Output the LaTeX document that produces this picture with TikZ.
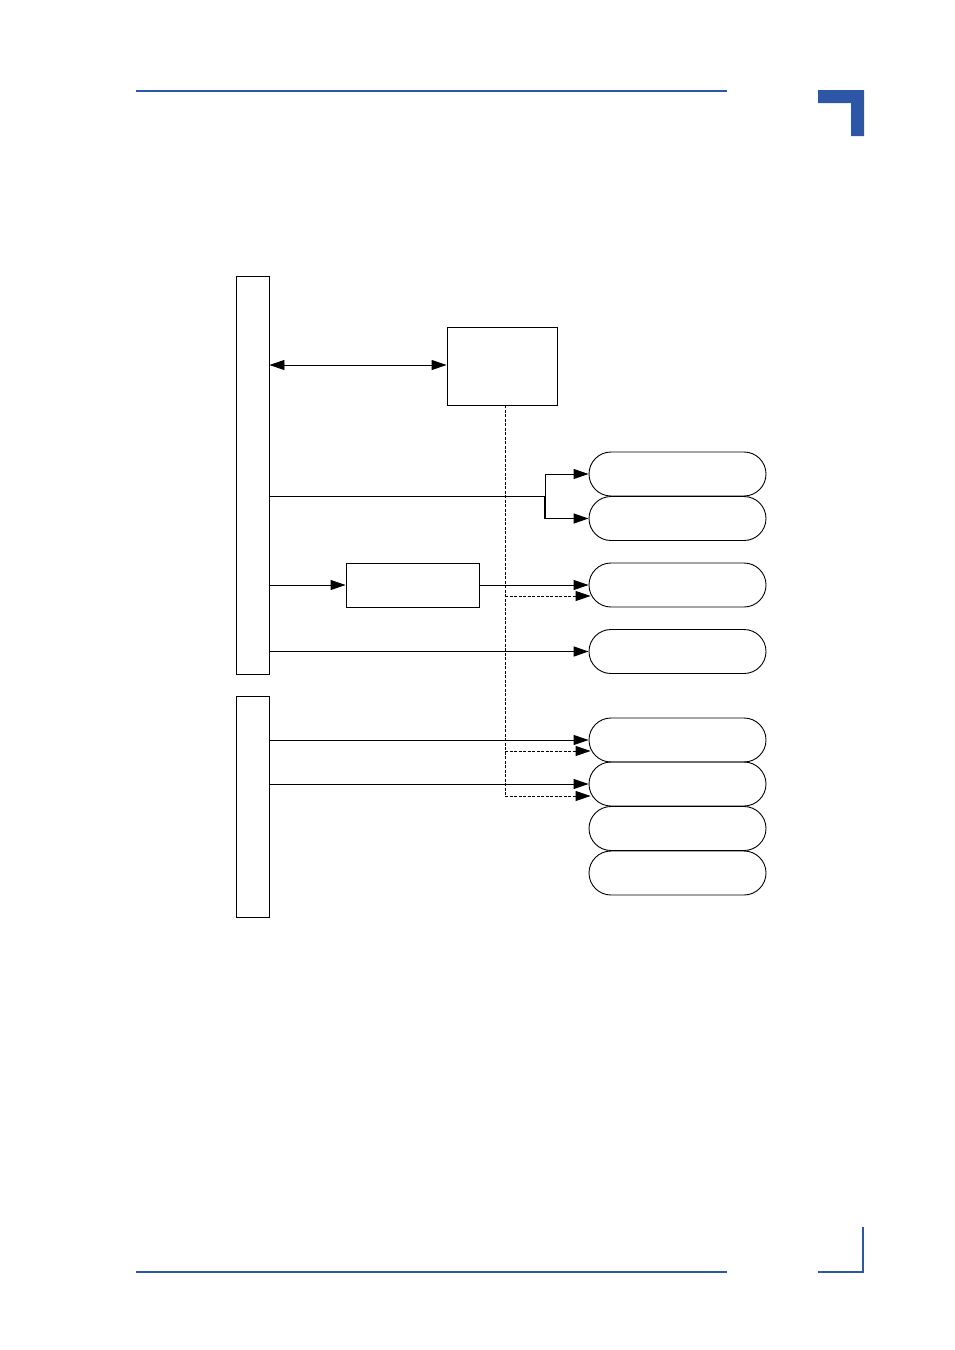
\documentclass[tikz,border=0pt]{standalone}
\usepackage{xcolor}
\definecolor{pgblue}{RGB}{45,86,166}
\usetikzlibrary{arrows.meta,positioning,shapes.misc,calc}
\begin{document}
\begin{tikzpicture}[x=1pt,y=-1pt,
  busbar/.style={draw,line width=0.9pt,minimum width=33pt,inner sep=0pt},
  blkbox/.style={draw,line width=0.9pt,inner sep=0pt},
  devoval/.style={draw,rounded rectangle,line width=0.9pt,minimum width=177pt,minimum height=44pt,inner sep=0pt},
  sigline/.style={-{Triangle[length=15pt,width=10pt]},line width=0.9pt},
  optline/.style={-{Triangle[length=15pt,width=10pt]},line width=0.9pt,dashed,dash pattern=on 3pt off 1.5pt}
]
  \useasboundingbox (0,0) rectangle (954,1350);
  % page frame
  \draw[pgblue,line width=1.8pt] (136,91) -- (727,91);
  \draw[pgblue,line width=1.8pt] (136,1272) -- (727,1272);
  \fill[pgblue] (818,90) -- (864,90) -- (864,136) -- (851,136) -- (851,103) -- (818,103) -- cycle;
  \draw[pgblue,line width=1.8pt] (818,1272) -- (863,1272) -- (863,1227);
  % buses
  \node[busbar,minimum height=398pt] (busA) at (252.5,475) {};
  \node[busbar,minimum height=221pt] (busB) at (252.5,806.5) {};
  % blocks
  \node[blkbox,minimum width=110pt,minimum height=78pt] (ctrl) at (502,366) {};
  \draw[line width=1.8pt] (ctrl.south west) -- (ctrl.south east);
  \node[blkbox,minimum width=133pt,minimum height=44pt] (conv) at (412.5,585) {};
  % devices
  \node[devoval] (dev1) at (677.5,474) {};
  \node[devoval] (dev2) at (677.5,518.5) {};
  \node[devoval] (dev3) at (677.5,585) {};
  \node[devoval] (dev4) at (677.5,651.5) {};
  \node[devoval] (dev5) at (677.5,740) {};
  \node[devoval] (dev6) at (677.5,784) {};
  \node[devoval] (dev7) at (677.5,828.5) {};
  \node[devoval] (dev8) at (677.5,873) {};
  % control link
  \draw[{Triangle[length=15pt,width=10pt]}-{Triangle[length=15pt,width=10pt]},line width=0.9pt]
    (busA.east |- 0,365) -- (ctrl.west |- 0,365);
  % dashed control trunk
  \coordinate (trunk) at (505,796);
  \draw[line width=0.9pt,dashed,dash pattern=on 3pt off 1.5pt] (ctrl.south -| trunk) -- (trunk);
  % split to dev1 / dev2
  \coordinate (split) at (545,496);
  \draw[line width=0.9pt] (busA.east |- split) -- (split);
  \draw[sigline] (split) |- (dev1.west);
  \draw[sigline,line width=1.4pt] (split) |- (dev2.west);
  % via converter to dev3
  \draw[sigline] (busA.east |- conv.west) -- (conv.west);
  \draw[sigline] (conv.east) -- (dev3.west);
  \draw[optline] (trunk |- 0,596) -- ([xshift=2pt,yshift=-11pt]dev3.west);
  % direct to dev4
  \draw[sigline,line width=1.6pt] (busA.east |- dev4.west) -- (dev4.west);
  % lower bus to dev5 / dev6
  \draw[sigline] (busB.east |- dev5.west) -- (dev5.west);
  \draw[optline] (trunk |- 0,751) -- ([xshift=2pt,yshift=-11pt]dev5.west);
  \draw[sigline] (busB.east |- dev6.west) -- (dev6.west);
  \draw[optline] (trunk) -- ([xshift=2pt,yshift=-12pt]dev6.west);
\end{tikzpicture}
\end{document}
